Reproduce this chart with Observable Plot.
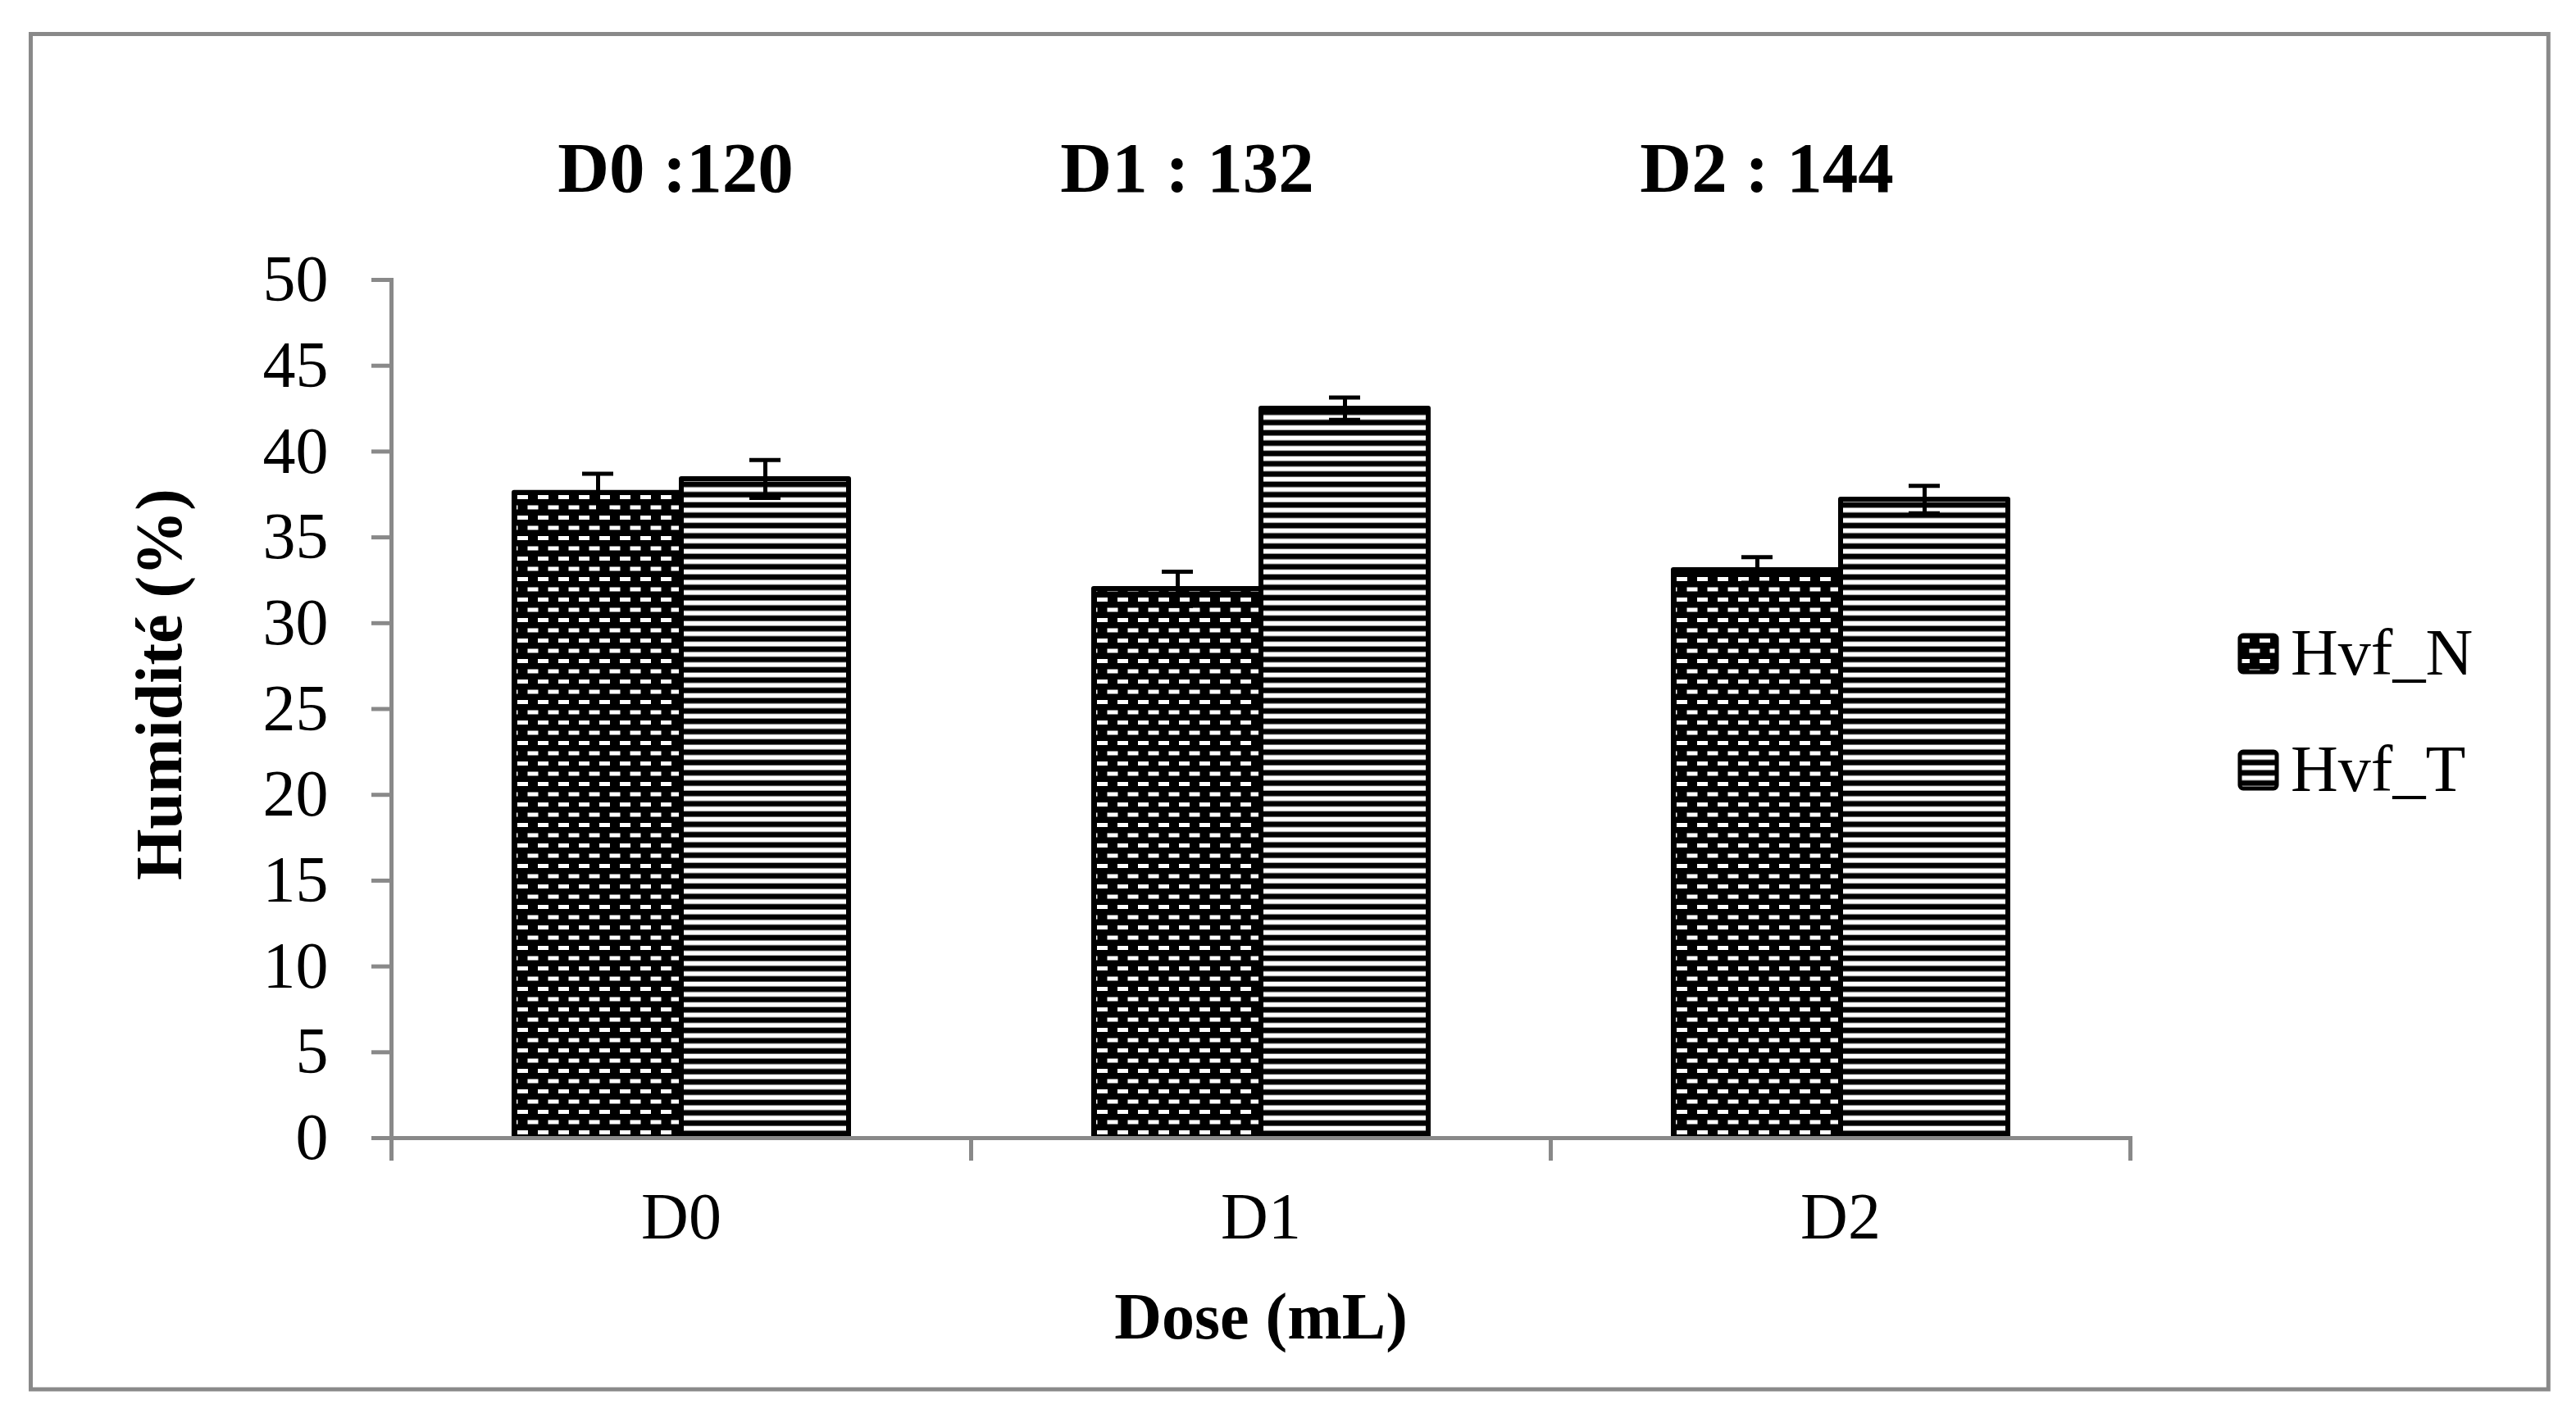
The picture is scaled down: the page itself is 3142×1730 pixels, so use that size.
<!DOCTYPE html>
<html><head><meta charset="utf-8">
<script src="https://cdn.jsdelivr.net/npm/d3@7"></script>
<script src="https://cdn.jsdelivr.net/npm/@observablehq/plot@0.6"></script>
<style>html,body{margin:0;padding:0;background:#fff;overflow:hidden}</style>
</head><body><div id="chart"></div>
<script>
const categories = ["D0", "D1", "D2"];
const series = ["Hvf_N", "Hvf_T"];
const valuesN = [37.6, 32.0, 33.1];
const valuesT = [38.4, 42.5, 37.2];
const errorsN = [1.1, 1.0, 0.75];
const errorsT = [1.1, 0.65, 0.8];
const yTicks = [0, 5, 10, 15, 20, 25, 30, 35, 40, 45, 50];
const doseLabels = ["D0 :120", "D1 : 132", "D2 : 144"];
const xTitle = "Dose (mL)";
const yTitle = "Humidité (%)";

const rows = [];
categories.forEach((c, i) => {
  rows.push({cat: c, series: series[0], value: valuesN[i], err: errorsN[i]});
  rows.push({cat: c, series: series[1], value: valuesT[i], err: errorsT[i]});
});
const doseRows = categories.map((c, i) => ({cat: c, label: doseLabels[i]}));

const W = 3142, Hgt = 1730, mL = 477, mR = 544, mT = 341, mB = 342;
const frameH = Hgt - mT - mB;
const gray = "#898989";
const serif = "'Liberation Serif','Times New Roman',serif";
const patFills = ["url(#patN)", "url(#patT)"];

const chart = Plot.plot({
  width: W, height: Hgt,
  marginLeft: mL, marginRight: mR, marginTop: mT, marginBottom: mB,
  style: {fontFamily: serif, background: "white", color: "black", overflow: "visible"},
  fx: {domain: categories, padding: 0, label: null},
  x: {domain: series, paddingInner: 0, paddingOuter: 0.731, axis: null},
  y: {domain: [0, 50], label: null},
  color: {domain: series, range: patFills},
  marks: [
    Plot.barY(rows, {fx: "cat", x: "series", y: "value", fill: "series", stroke: "black", strokeWidth: 6, strokeLinejoin: "round"}),
    Plot.ruleX(rows, {fx: "cat", x: "series", y1: d => d.value - d.err, y2: d => d.value + d.err, stroke: "black", strokeWidth: 5}),
    Plot.tickY(rows, {fx: "cat", x: "series", y: d => d.value + d.err, stroke: "black", strokeWidth: 5, insetLeft: 83, insetRight: 83}),
    Plot.tickY(rows, {fx: "cat", x: "series", y: d => d.value - d.err, stroke: "black", strokeWidth: 5, insetLeft: 83, insetRight: 83}),
    Plot.frame({anchor: "bottom", stroke: gray, strokeWidth: 5}),
    Plot.frame({anchor: "left", facetAnchor: "left", stroke: gray, strokeWidth: 5, insetBottom: -25}),
    Plot.frame({anchor: "left", stroke: gray, strokeWidth: 5, insetTop: frameH, insetBottom: -25}),
    Plot.frame({anchor: "right", facetAnchor: "right", stroke: gray, strokeWidth: 5, insetTop: frameH, insetBottom: -25}),
    Plot.axisY({ticks: yTicks, tickSize: 24, tickPadding: 53, stroke: gray, strokeWidth: 5, fill: "black", fontSize: 80, label: null}),
    Plot.axisFx({anchor: "bottom", tickSize: 0, tickPadding: 66, fill: "black", fontSize: 80, label: null}),
    Plot.text([yTitle], {fx: ["D0"], frameAnchor: "left", rotate: -90, lineAnchor: "bottom", textAnchor: "middle", dx: -257, dy: -30, fontSize: 80, fontWeight: "bold", fill: "black"}),
    Plot.text([xTitle], {fx: ["D1"], frameAnchor: "bottom", lineAnchor: "bottom", dy: 244, fontSize: 80, fontWeight: "bold", fill: "black"}),
    Plot.text(doseRows.filter(d => d.cat === "D0"), {fx: "cat", text: "label", frameAnchor: "top", lineAnchor: "bottom", dy: -108, dx: -7, fontSize: 87, fontWeight: "bold", fill: "black"}),
    Plot.text(doseRows.filter(d => d.cat !== "D0"), {fx: "cat", text: "label", frameAnchor: "top", lineAnchor: "bottom", dy: -108, dx: -90, fontSize: 87, fontWeight: "bold", fill: "black"})
  ]
});

const svg = d3.select(chart);
const defs = svg.insert("defs", ":first-child");
const pN = defs.append("pattern").attr("id", "patN").attr("patternUnits", "userSpaceOnUse")
  .attr("width", 25).attr("height", 25);
pN.append("rect").attr("width", 25).attr("height", 25).attr("fill", "black");
pN.append("rect").attr("x", 6).attr("y", 4).attr("width", 13).attr("height", 5).attr("fill", "white");
pN.append("rect").attr("x", 18.5).attr("y", 16.5).attr("width", 6.5).attr("height", 5).attr("fill", "white");
pN.append("rect").attr("x", 0).attr("y", 16.5).attr("width", 6.5).attr("height", 5).attr("fill", "white");
const pT = defs.append("pattern").attr("id", "patT").attr("patternUnits", "userSpaceOnUse")
  .attr("width", 10).attr("height", 12.57);
pT.append("rect").attr("width", 10).attr("height", 12.57).attr("fill", "black");
pT.append("rect").attr("x", 0).attr("y", 3.5).attr("width", 10).attr("height", 5.8).attr("fill", "white");

// outer border
svg.append("rect").attr("x", 37.5).attr("y", 41.5).attr("width", 3070.8).attr("height", 1653.5)
  .attr("fill", "none").attr("stroke", gray).attr("stroke-width", 5);

// legend
const lg = svg.append("g").attr("font-family", serif).attr("font-size", 80).attr("fill", "black")
  .attr("text-anchor", "start");
series.forEach((s, i) => {
  const y0 = 773 + i * 142;
  lg.append("rect").attr("x", 2732).attr("y", y0 + 2).attr("width", 45).attr("height", 45).attr("rx", 4)
    .attr("fill", patFills[i]).attr("stroke", "black").attr("stroke-width", 5);
  lg.append("text").attr("x", 2794).attr("y", y0 + 50).attr("text-anchor", "start").text(s);
});

document.getElementById("chart").appendChild(chart);
</script>
</body></html>
